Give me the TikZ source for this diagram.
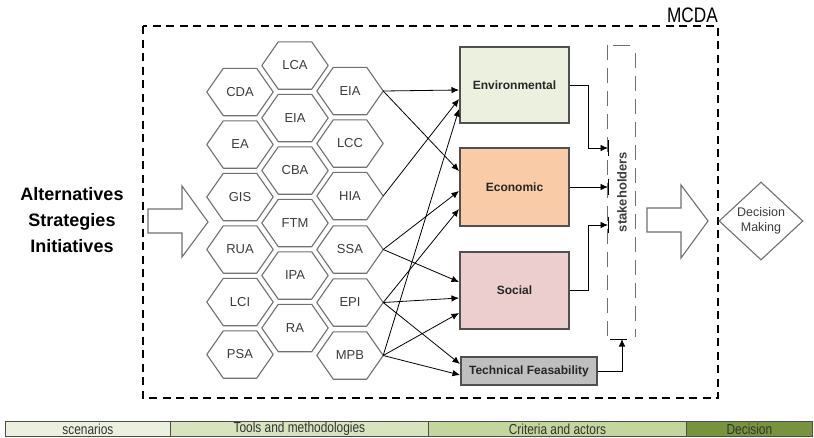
\documentclass[tikz,border=0pt]{standalone}
\usepackage{fontspec}
\setmainfont{Liberation Sans}
\newfontfamily\narrowfont{Liberation Sans}[FakeStretch=0.82]
\usetikzlibrary{arrows.meta,shapes.geometric}

\definecolor{hexgray}{RGB}{112,112,112}
\definecolor{txtgray}{RGB}{60,60,60}
\definecolor{envfill}{RGB}{235,241,222}
\definecolor{ecofill}{RGB}{249,203,166}
\definecolor{socfill}{RGB}{236,206,206}
\definecolor{techfill}{RGB}{191,191,191}
\definecolor{boxline}{RGB}{80,80,80}
\definecolor{barA}{RGB}{235,241,222}
\definecolor{barB}{RGB}{215,228,189}
\definecolor{barC}{RGB}{195,214,155}
\definecolor{barD}{RGB}{119,147,60}

\tikzset{
  hexa/.style={minimum width=66pt, minimum height=47pt, inner sep=0pt,
    text=txtgray, font=\fontsize{13}{15}\selectfont},
  hexline/.style={draw=hexgray, line width=1.1pt, line join=round},
  crit/.style={draw=boxline, line width=1.3pt, inner sep=0pt,
    font=\bfseries\fontsize{12}{14}\selectfont, text=black!85},
  conn/.style={draw=black, line width=0.8pt, -{Latex[length=7.5pt,width=6.5pt]}},
  tick/.style={draw=black, line width=0.8pt},
  bigarrow/.style={draw=hexgray, line width=1.1pt, fill=white, line join=miter},
  barseg/.style={draw=black!70, line width=0.8pt, inner sep=0pt,
    minimum height=15pt, font=\narrowfont\fontsize{14.5}{15}\selectfont, text=black!80},
}

\begin{document}
\begin{tikzpicture}[x=1pt,y=-1pt]
\useasboundingbox[fill=white] (0,0) rectangle (814,437);

% MCDA frame and title
\draw[black, line width=2pt, dash pattern=on 8pt off 5.5pt] (143,26) rectangle (718,398);
\node[anchor=base east, inner sep=0pt, font=\narrowfont\fontsize{21}{24}\selectfont] (mcda) at (718,22) {MCDA};

% Inputs
\node[align=center, font=\bfseries\fontsize{18}{26}\selectfont] (alt) at (72,220) {Alternatives\\Strategies\\Initiatives};
\draw[bigarrow] (148,209) -- (182,209) -- (182,186) -- (208,222) -- (182,257) -- (182,233) -- (148,233) -- cycle;

% Honeycomb of tools and methodologies
\node[hexa] (cda) at (240,92)    {CDA};
\node[hexa] (ea)  at (240,144.5) {EA};
\node[hexa] (gis) at (240,197)   {GIS};
\node[hexa] (rua) at (240,249.5) {RUA};
\node[hexa] (lci) at (240,302)   {LCI};
\node[hexa] (psa) at (240,354.5) {PSA};

\node[hexa] (lca) at (295,65.5)  {LCA};
\node[hexa] (eiaa) at (295,118)  {EIA};
\node[hexa] (cba) at (295,170.5) {CBA};
\node[hexa] (ftm) at (295,223)   {FTM};
\node[hexa] (ipa) at (295,275.5) {IPA};
\node[hexa] (ra)  at (295,328)   {RA};

\node[hexa] (eiab) at (350,91)   {EIA};
\node[hexa] (lcc) at (350,143.5) {LCC};
\node[hexa] (hia) at (350,196)   {HIA};
\node[hexa] (ssa) at (350,249.5) {SSA};
\node[hexa] (epi) at (350,302.5) {EPI};
\node[hexa] (mpb) at (350,355.5) {MPB};

\foreach \h in {cda,ea,gis,rua,lci,psa,lca,eiaa,cba,ftm,ipa,ra,eiab,lcc,hia,ssa,epi,mpb}{
  \draw[hexline] (\h.west) -- ([xshift=16.5pt]\h.north west) -- ([xshift=-16.5pt]\h.north east)
    -- (\h.east) -- ([xshift=-16.5pt]\h.south east) -- ([xshift=16.5pt]\h.south west) -- cycle;
}

% Criteria
\node[crit, fill=envfill, minimum width=109pt, minimum height=76pt] (env) at (514.5,85) {Environmental};
\node[crit, fill=ecofill, minimum width=109pt, minimum height=78pt] (eco) at (514.5,187) {Economic};
\node[crit, fill=socfill, minimum width=109pt, minimum height=77pt] (soc) at (514.5,290.5) {Social};
\node[crit, fill=techfill, minimum width=136pt, minimum height=28pt] (tech) at (529,371) {Technical Feasability};

% Entry points on the criteria
\coordinate (envA) at (459,90);
\coordinate (envB) at (459,99);
\coordinate (envC) at (459,109);
\coordinate (ecoA) at (459,171);
\coordinate (ecoB) at (459,191);
\coordinate (ecoC) at (459,209);
\coordinate (socA) at (459,282);
\coordinate (socB) at (459,298);
\coordinate (socC) at (459,313);
\coordinate (techA) at (460,364);
\coordinate (techB) at (460,375);

% Tools to criteria
\draw[conn] (eiab.east) -- (envA);
\draw[conn] (eiab.east) -- (ecoA);
\draw[conn] (hia.east) -- (envB);
\draw[conn] (ssa.east) -- (ecoB);
\draw[conn] (ssa.east) -- (socA);
\draw[conn] (epi.east) -- (ecoC);
\draw[conn] (epi.east) -- (socB);
\draw[conn] (epi.east) -- (techA);
\draw[conn] (mpb.east) -- (envC);
\draw[conn] (mpb.east) -- (socC);
\draw[conn] (mpb.east) -- (techB);

% Stakeholders
\node[inner sep=0pt, minimum width=27pt, minimum height=292pt] (sh) at (621.5,191) {};
\draw[draw=hexgray, line width=1.1pt, dash pattern=on 15pt off 8pt] (sh.north west) -- (sh.south west);
\draw[draw=hexgray, line width=1.1pt, dash pattern=on 15pt off 8pt] ([yshift=-8pt]sh.north east) -- (sh.south east);
\draw[draw=hexgray, line width=1.1pt] ([xshift=5pt,yshift=-1pt]sh.north west) -- ([xshift=-5pt,yshift=-1pt]sh.north east);
\node[rotate=90, font=\bfseries\fontsize{13}{15}\selectfont, text=txtgray] (shlabel) at (622,192) {stakeholders};

\coordinate (shA) at (608,148);
\coordinate (shB) at (608,187);
\coordinate (shC) at (608,225);
\coordinate (shD) at (622,339);
\foreach \c in {shA,shB,shC}{\draw[tick] ([yshift=8pt]\c) -- ([yshift=-8pt]\c);}
\draw[tick] ([xshift=-12pt]shD) -- ([xshift=5pt]shD);

% Criteria to stakeholders
\draw[conn] (env.east) -- (588,85) |- (shA);
\draw[conn] (eco.east) -- (shB);
\draw[conn] (soc.east) -- (588,290.5) |- (shC);
\draw[conn] (tech.east) -| (shD);

% Decision
\draw[bigarrow] (647,208) -- (681,208) -- (681,185) -- (708,221) -- (681,258) -- (681,232) -- (647,232) -- cycle;
\node[diamond, draw=hexgray, line width=1.1pt, minimum width=84pt, minimum height=78pt, inner sep=0pt,
  align=center, text=txtgray, font=\fontsize{12.5}{15}\selectfont] (dec) at (761,221) {Decision\\Making};

% Phase bar
\node[barseg, fill=barA, minimum width=165pt, anchor=north west] (scen) at (5,421) {scenarios};
\node[barseg, fill=barB, minimum width=258pt, anchor=north west] (tools) at (170,421) {Tools and methodologies};
\node[barseg, fill=barC, minimum width=258pt, anchor=north west] (critb) at (428,421) {Criteria and actors};
\node[barseg, fill=barD, minimum width=126pt, anchor=north west] (decb) at (686,421) {Decision};
\end{tikzpicture}
\end{document}
